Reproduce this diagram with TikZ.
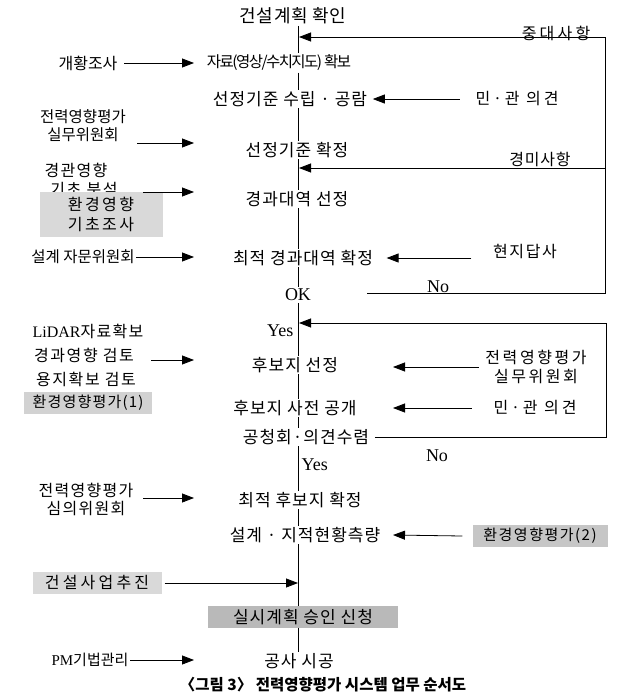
\documentclass[tikz,border=0pt]{standalone}
\usepackage{fontspec}
\setmainfont{Noto Sans CJK KR}
\newfontfamily\lat{Liberation Serif}
\usetikzlibrary{arrows.meta}
\newcommand\F[3]{\fontsize{#1}{#2}\selectfont\addfontfeature{LetterSpace=#3}}
\tikzset{
  ln/.style={line width=0.7pt},
  arr/.style={line width=0.8pt,-{Triangle[length=12pt,width=9pt]}},
  txt/.style={inner sep=1.5pt},
  main/.style={txt,font=\F{17}{19}{6}},
  left/.style={txt,font=\F{15.5}{18}{0}},
  right/.style={txt,font=\F{16}{19}{16}},
  latn/.style={txt,font=\fontsize{18}{20}\selectfont\lat},
  graybox/.style={inner sep=0pt,minimum height=22pt},
}
\begin{document}
\begin{tikzpicture}[x=1pt,y=-1pt]
\fill[white] (0,0) rectangle (618,694);
\useasboundingbox (0,0) rectangle (618,694);
\coordinate (L) at (298,0);
\coordinate (T) at (194,0);
\coordinate (RT) at (393,0);

% main column
\node[txt,font=\F{18}{20}{4}] (t1) at (293,16) {건설계획 확인};
\node[txt,font=\F{15.5}{17}{-10}] (m1) at (279,63) {자료(영상/수치지도) 확보};
\node[main] (m2) at (290,99) {선정기준 수립 · 공람};
\node[main] (m3) at (297,150) {선정기준 확정};
\node[main] (m4) at (297,199) {경과대역 선정};
\node[main] (m5) at (303,258) {최적 경과대역 확정};
\node[latn] (ok) at (298,295) {OK};
\node[latn,anchor=east] (yes1) at (295,331) {Yes};
\node[main] (m6) at (295,365) {후보지 선정};
\node[main] (m7) at (295,408) {후보지 사전 공개};
\node[main] (m8) at (306,437) {공청회·의견수렴};
\node[latn,anchor=west] (yes2) at (300,465) {Yes};
\node[main] (m9) at (300,500) {최적 후보지 확정};
\node[main] (m10) at (305,535) {설계 · 지적현황측량};
\node[graybox,fill=gray!55,minimum width=190pt,font=\F{17}{19}{6}] (m11) at (303,617) {실시계획 승인 신청};
\node[main] (m12) at (299,661) {공사 시공};

% main line
\draw[ln] (t1.south -| L) -- (m1.north -| L);
\draw[ln] (m1.south -| L) -- (m2.north -| L);
\draw[ln] (m2.south -| L) -- (m3.north -| L);
\draw[ln] (m3.south -| L) -- (m4.north -| L);
\draw[ln] (m4.south -| L) -- (m5.north -| L);
\draw[ln] (m5.south -| L) -- (ok.north -| L);
\draw[ln] (ok.south -| L) -- (m6.north -| L);
\draw[ln] (m6.south -| L) -- (m7.north -| L);
\draw[ln] (m7.south -| L) -- (m8.north -| L);
\draw[ln] (m8.south -| L) -- (m9.north -| L);
\draw[ln] (m9.south -| L) -- (m10.north -| L);
\draw[ln] (m10.south -| L) -- (m11.north -| L);
\draw[ln] (m11.south -| L) -- (m12.north -| L);

% left labels
\node[txt,font=\F{16}{18}{0}] (l1) at (88,63) {개황조사};
\node[left,align=center] (l2) at (83,126) {전력영향평가\\실무위원회};
\node[txt,font=\F{16}{18}{8}] (l3) at (76,170) {경관영향};
\node[txt,inner sep=0pt,font=\F{16}{18}{10}] (l3b) at (84,190) {기초 분석};
\node[graybox,fill=gray!30,minimum width=123pt,minimum height=45pt,align=center,font=\F{16}{20}{15}] (l4) at (101,214) {환경영향\\기초조사};
\node[left] (l5) at (83,257) {설계 자문위원회};
\node[txt,font=\F{16}{18}{8}] (l6) at (88,331) {{\lat LiDAR}자료확보};
\node[txt,font=\F{16}{18}{10}] (l7) at (84,355) {경과영향 검토};
\node[txt,font=\F{16}{18}{10}] (l8) at (86,379) {용지확보 검토};
\node[graybox,fill=gray!35,minimum width=128pt,font=\F{15}{18}{8}] (l9) at (88,403) {환경영향평가(1)};
\node[txt,align=center,font=\F{16}{18}{8}] (l10) at (86,499) {전력영향평가\\심의위원회};
\node[graybox,fill=gray!30,minimum width=129pt,font=\F{16}{18}{20}] (l11) at (97,583) {건설사업추진};
\node[txt,font=\F{15}{18}{0}] (l12) at (90,660) {{\lat PM}기법관리};

% right labels
\node[txt,font=\F{16}{18}{20}] (r0) at (556,33) {중대사항};
\node[txt,font=\F{16}{18}{18}] (r1) at (517,99) {민·관 의견};
\node[txt,font=\F{16}{18}{5}] (r2) at (540,159) {경미사항};
\node[txt,font=\F{16}{18}{10}] (r3) at (525,252) {현지답사};
\node[latn] (no1) at (438,287) {No};
\node[right,align=center] (r4) at (536,367) {전력영향평가\\실무위원회};
\node[txt,font=\F{16}{18}{18}] (r5) at (535,408) {민·관 의견};
\node[latn] (no2) at (437,456) {No};
\node[graybox,fill=gray!45,minimum width=135pt,font=\F{15}{18}{10}] (r6) at (540,536) {환경영향평가(2)};

% feedback loops
\coordinate (h1) at (299,37);
\coordinate (R1t) at (605,37);
\coordinate (R1b) at (605,293);
\coordinate (N1) at (367,293);
\draw[arr] (N1) -- (R1b) -- (R1t) -- (h1);
\coordinate (R1m) at (605,168);
\coordinate (h2) at (299,168);
\draw[arr] (R1m) -- (h2);
\coordinate (R2) at (606,323);
\coordinate (h3) at (299,323);
\draw[arr] ([xshift=4pt]m8.east) -- (m8.east -| R2) -- (R2) -- (h3);

% left arrows
\draw[arr] ([xshift=5pt]l1.east) -- (l1.east -| T);
\coordinate (a2) at (137,143);
\draw[arr] (a2) -- (a2 -| T);
\coordinate (a3) at (143,192);
\draw[arr] (a3) -- (a3 -| T);
\draw[arr] (l5.east) -- (l5.east -| T);
\coordinate (a7) at (151,360);
\draw[arr] (a7) -- (a7 -| T);
\coordinate (a10) at (143,498);
\draw[arr] (a10) -- (a10 -| T);
\draw[arr] ([xshift=3pt]l11.east) -- (l11.east -| L);
\draw[arr] (l12.east) -- (l12.east -| T);

% right arrows
\draw[arr] ([xshift=-14pt]r1.west) -- ([xshift=4pt]m2.east);
\draw[arr] ([xshift=-20pt]r3.west |- m5) -- ([xshift=12pt]m5.east);
\draw[arr] ([xshift=-5pt]r4.west) -- (r4.west -| RT);
\draw[arr] ([xshift=-20pt]r5.west) -- (m7.east -| RT);
\draw[arr] ([xshift=-10pt]r6.west) -- (m10.east -| RT);

% caption
\node[txt,font=\fontsize{15.5}{18}\selectfont\bfseries] (cap) at (323,685) {〈그림 3〉 전력영향평가 시스템 업무 순서도};
\end{tikzpicture}
\end{document}
